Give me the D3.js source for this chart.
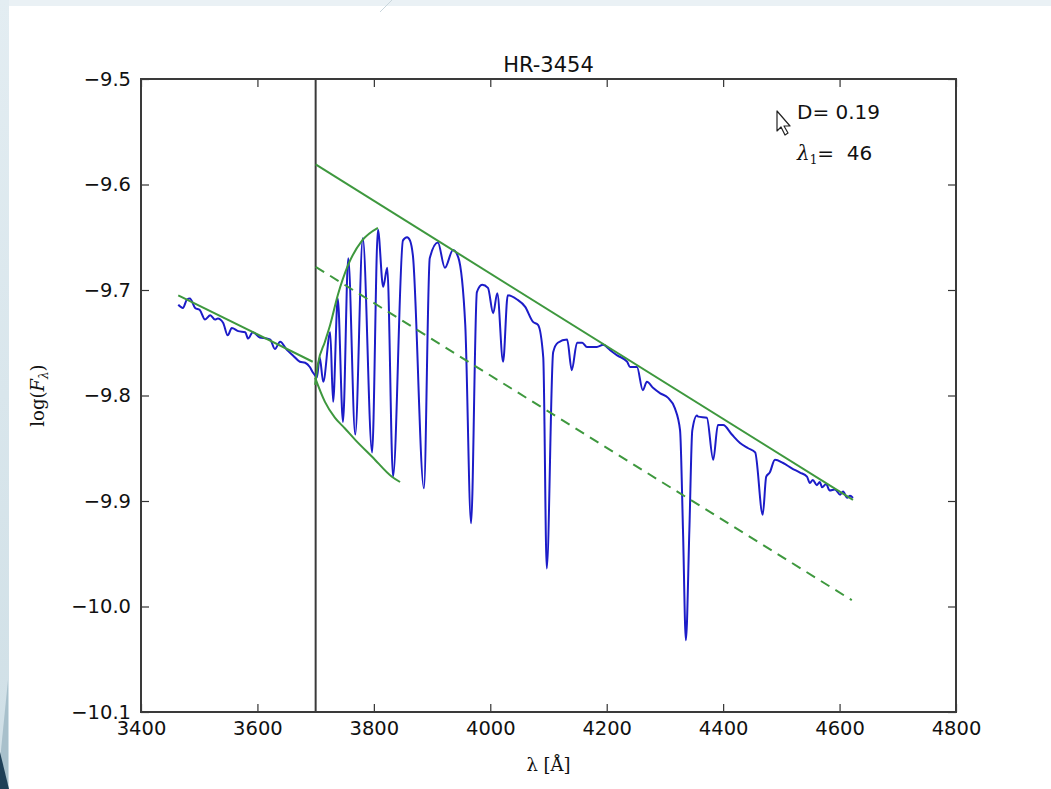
<!DOCTYPE html>
<html>
<head>
<meta charset="utf-8">
<script src="https://cdn.jsdelivr.net/npm/d3@7"></script>
<style>
  body { margin: 0; background: #fff; }
  text { fill: #111; }
</style>
</head>
<body>
<script>
// HR-3454 spectrum, values
var title = "HR-3454";
var xTicks = [3400, 3600, 3800, 4000, 4200, 4400, 4600, 4800];
var yTicks = [-10.1, -10.0, -9.9, -9.8, -9.7, -9.6, -9.5];

// observed flux (blue)
var specWave = [3464, 3472, 3479, 3484, 3493, 3501, 3510, 3519, 3527, 3532, 3541, 3549, 3556, 3567, 3579, 3584,
  3592, 3604, 3616, 3622, 3630, 3639, 3651, 3661, 3673, 3682, 3690, 3695, 3699, 3702,
  3707, 3713, 3725, 3730, 3738, 3747, 3756, 3768, 3781, 3797, 3807, 3816, 3823, 3833, 3850, 3857, 3862, 3867,
  3886, 3896, 3910, 3922, 3936, 3945, 3957, 3967, 3977, 3986, 3996, 4005, 4012, 4022, 4030, 4046, 4060, 4073,
  4082, 4091, 4097, 4108, 4116, 4132, 4140, 4149, 4158, 4166, 4183, 4194, 4206, 4218, 4235, 4240, 4252, 4262,
  4269, 4280, 4292, 4305, 4317, 4326, 4331, 4336, 4342, 4347, 4355, 4357, 4372, 4383, 4391, 4400, 4415, 4429,
  4443, 4455, 4468, 4474, 4480, 4489, 4503, 4518, 4532, 4544, 4549, 4554, 4561, 4566, 4570, 4577, 4583, 4592,
  4601, 4606, 4613, 4618, 4623];
var specFlux = [-9.714, -9.717, -9.709, -9.708, -9.717, -9.719, -9.728, -9.724, -9.728, -9.727, -9.731, -9.743,
  -9.736, -9.739, -9.740, -9.746, -9.740, -9.745, -9.746, -9.747, -9.756, -9.749, -9.757, -9.762, -9.768, -9.769,
  -9.773, -9.778, -9.781, -9.783,
  -9.764, -9.787, -9.740, -9.806, -9.708, -9.825, -9.670, -9.837, -9.651, -9.854, -9.643, -9.697, -9.679, -9.877,
  -9.653, -9.650, -9.653, -9.667, -9.888, -9.670, -9.655, -9.679, -9.662, -9.669, -9.733, -9.921, -9.702, -9.695,
  -9.698, -9.722, -9.703, -9.768, -9.705, -9.709, -9.716, -9.730, -9.733, -9.764, -9.964, -9.759, -9.750, -9.747,
  -9.776, -9.750, -9.750, -9.754, -9.754, -9.752, -9.757, -9.762, -9.768, -9.773, -9.773, -9.795, -9.787, -9.793,
  -9.798, -9.802, -9.812, -9.833, -9.927, -10.032, -9.927, -9.833, -9.819, -9.820, -9.821, -9.861, -9.828, -9.828,
  -9.837, -9.845, -9.850, -9.854, -9.913, -9.877, -9.873, -9.861, -9.864, -9.869, -9.873, -9.877, -9.883, -9.880,
  -9.885, -9.882, -9.887, -9.884, -9.890, -9.889, -9.894, -9.891, -9.897, -9.895, -9.897];

// fitted lines (green)
var leftContWave = [3464, 3695];
var leftContFlux = [-9.705, -9.768];
var upperContWave = [3700, 4623];
var upperContFlux = [-9.581, -9.899];
var dashedWave = [3700, 4621];
var dashedFlux = [-9.678, -9.994];
var envTopWave = [3699, 3704, 3716, 3725, 3738, 3756, 3780, 3807];
var envTopFlux = [-9.790, -9.770, -9.749, -9.733, -9.705, -9.676, -9.653, -9.641];
var envBottomWave = [3699, 3716, 3733, 3750, 3768, 3797, 3831, 3845];
var envBottomFlux = [-9.783, -9.806, -9.821, -9.831, -9.842, -9.858, -9.877, -9.882];

var balmerJump = 3700;
var dLabel = "D= 0.19";
var lambda1Value = "46";

var width = 1051, height = 789;
// plot box in pixels (not "top": that name is taken by window.top)
var pLeft = 141, pRight = 956, pTop = 79, pBottom = 712;
var sans = '"DejaVu Sans", sans-serif';
var serif = '"DejaVu Serif", serif';

var svg = d3.select('body').append('svg')
  .attr('width', width)
  .attr('height', height)
  .style('font-family', sans);

// screenshot background around the figure
svg.append('rect').attr('width', width).attr('height', height).attr('fill', '#eaf1f5');
var grad = svg.append('defs').append('linearGradient')
  .attr('id', 'sideGrad').attr('x1', 0).attr('y1', 0).attr('x2', 0).attr('y2', 1);
grad.append('stop').attr('offset', '0%').attr('stop-color', '#e3edf2');
grad.append('stop').attr('offset', '100%').attr('stop-color', '#cfdfe6');
svg.append('rect').attr('x', 0).attr('y', 0).attr('width', 9).attr('height', height).attr('fill', 'url(#sideGrad)');
svg.append('path').attr('d', 'M8,680 L8,789 L0,789 L0,760 Z').attr('fill', '#a8c0cb');
svg.append('path').attr('d', 'M0,752 L9,789 L0,789 Z').attr('fill', '#1f4057');
svg.append('rect').attr('x', 9).attr('y', 6).attr('width', width - 9).attr('height', height - 6).attr('fill', '#fff');
svg.append('line').attr('x1', 392).attr('y1', 0).attr('x2', 380).attr('y2', 12)
  .attr('stroke', '#c9d6dc').attr('stroke-width', 1);

var xScale = d3.scaleLinear().domain([3400, 4800]).range([pLeft, pRight]);
var yScale = d3.scaleLinear().domain([-10.1, -9.5]).range([pBottom, pTop]);

var yFmt = d3.format('.1f');

// axes with ticks pointing inwards, like matplotlib classic
var xAxis = d3.axisBottom(xScale).tickValues(xTicks).tickFormat(d3.format('d'))
  .tickSizeInner(-8).tickSizeOuter(0).tickPadding(9);
var yAxis = d3.axisLeft(yScale).tickValues(yTicks).tickFormat(yFmt)
  .tickSizeInner(-8).tickSizeOuter(0).tickPadding(10);
var xTop = d3.axisTop(xScale).tickValues(xTicks).tickFormat('').tickSizeInner(-8).tickSizeOuter(0);
var yRight = d3.axisRight(yScale).tickValues(yTicks).tickFormat('').tickSizeInner(-8).tickSizeOuter(0);

function styleAxis(g) {
  g.attr('font-family', null).attr('font-size', null);
  g.select('.domain').remove();
  g.selectAll('.tick line').attr('stroke', '#333').attr('stroke-width', 1.2);
  g.selectAll('.tick text').style('font-family', sans).attr('font-size', 19.5).attr('fill', '#111');
}

svg.append('g').attr('transform', 'translate(0,' + pBottom + ')').call(xAxis).call(styleAxis);
svg.append('g').attr('transform', 'translate(' + pLeft + ',0)').call(yAxis).call(styleAxis);
svg.append('g').attr('transform', 'translate(0,' + pTop + ')').call(xTop).call(styleAxis);
svg.append('g').attr('transform', 'translate(' + pRight + ',0)').call(yRight).call(styleAxis);

var plot = svg.append('g');

function pairs(w, f) {
  return w.map(function(d, i) { return [d, f[i]]; });
}

var line = d3.line()
  .x(function(d) { return xScale(d[0]); })
  .y(function(d) { return yScale(d[1]); });
var smooth = d3.line()
  .x(function(d) { return xScale(d[0]); })
  .y(function(d) { return yScale(d[1]); })
  .curve(d3.curveMonotoneX);

// vertical line at the Balmer jump
plot.append('line')
  .attr('x1', xScale(balmerJump)).attr('x2', xScale(balmerJump))
  .attr('y1', yScale(-9.5)).attr('y2', yScale(-10.1))
  .attr('stroke', '#3a3a3a').attr('stroke-width', 2);

// spectrum
plot.append('path')
  .attr('d', smooth(pairs(specWave, specFlux)))
  .attr('fill', 'none').attr('stroke', '#1c1cc8').attr('stroke-width', 2)
  .attr('stroke-linejoin', 'round');

var green = '#3e983e';
plot.append('path').attr('d', line(pairs(leftContWave, leftContFlux)))
  .attr('fill', 'none').attr('stroke', green).attr('stroke-width', 2);
plot.append('path').attr('d', line(pairs(upperContWave, upperContFlux)))
  .attr('fill', 'none').attr('stroke', green).attr('stroke-width', 2);
plot.append('path').attr('d', line(pairs(dashedWave, dashedFlux)))
  .attr('fill', 'none').attr('stroke', green).attr('stroke-width', 2)
  .attr('stroke-dasharray', '10,7');
plot.append('path').attr('d', smooth(pairs(envTopWave, envTopFlux)))
  .attr('fill', 'none').attr('stroke', green).attr('stroke-width', 2);
plot.append('path').attr('d', smooth(pairs(envBottomWave, envBottomFlux)))
  .attr('fill', 'none').attr('stroke', green).attr('stroke-width', 2);

// frame
svg.append('rect')
  .attr('x', pLeft).attr('y', pTop).attr('width', pRight - pLeft).attr('height', pBottom - pTop)
  .attr('fill', 'none').attr('stroke', '#3a3a3a').attr('stroke-width', 2);

// title and axis labels
svg.append('text').attr('x', (pLeft + pRight) / 2).attr('y', 72)
  .attr('text-anchor', 'middle').attr('font-size', 21).text(title);

svg.append('text').attr('x', (pLeft + pRight) / 2).attr('y', 771)
  .attr('text-anchor', 'middle').style('font-family', serif).attr('font-size', 18)
  .text('λ [Å]');

var yl = svg.append('text').attr('transform', 'translate(44,' + ((pTop + pBottom) / 2) + ') rotate(-90)')
  .attr('text-anchor', 'middle').style('font-family', serif).attr('font-size', 18);
yl.append('tspan').text('log(');
yl.append('tspan').attr('font-style', 'italic').text('F');
yl.append('tspan').attr('font-size', 12).attr('dy', 4).attr('font-style', 'italic').text('λ');
yl.append('tspan').attr('dy', -4).text(')');

// annotations
svg.append('text').attr('x', 797).attr('y', 119).attr('font-size', 20).text(dLabel);
var la = svg.append('text').attr('x', 797).attr('y', 160).attr('font-size', 20)
  .style('white-space', 'pre');
la.append('tspan').style('font-family', serif).attr('font-style', 'italic').text('λ');
la.append('tspan').style('font-family', serif).attr('font-size', 12).attr('dy', 4).text('1');
la.append('tspan').attr('dy', -4).text('=  ' + lambda1Value);

// mouse pointer from the screenshot
svg.append('path')
  .attr('d', 'M777,111 L777,131 L781,127 L785,135 L788,133 L784,126 L790,126 Z')
  .attr('fill', '#fff').attr('stroke', '#222').attr('stroke-width', 1.2)
  .attr('stroke-linejoin', 'round');
</script>
</body>
</html>
